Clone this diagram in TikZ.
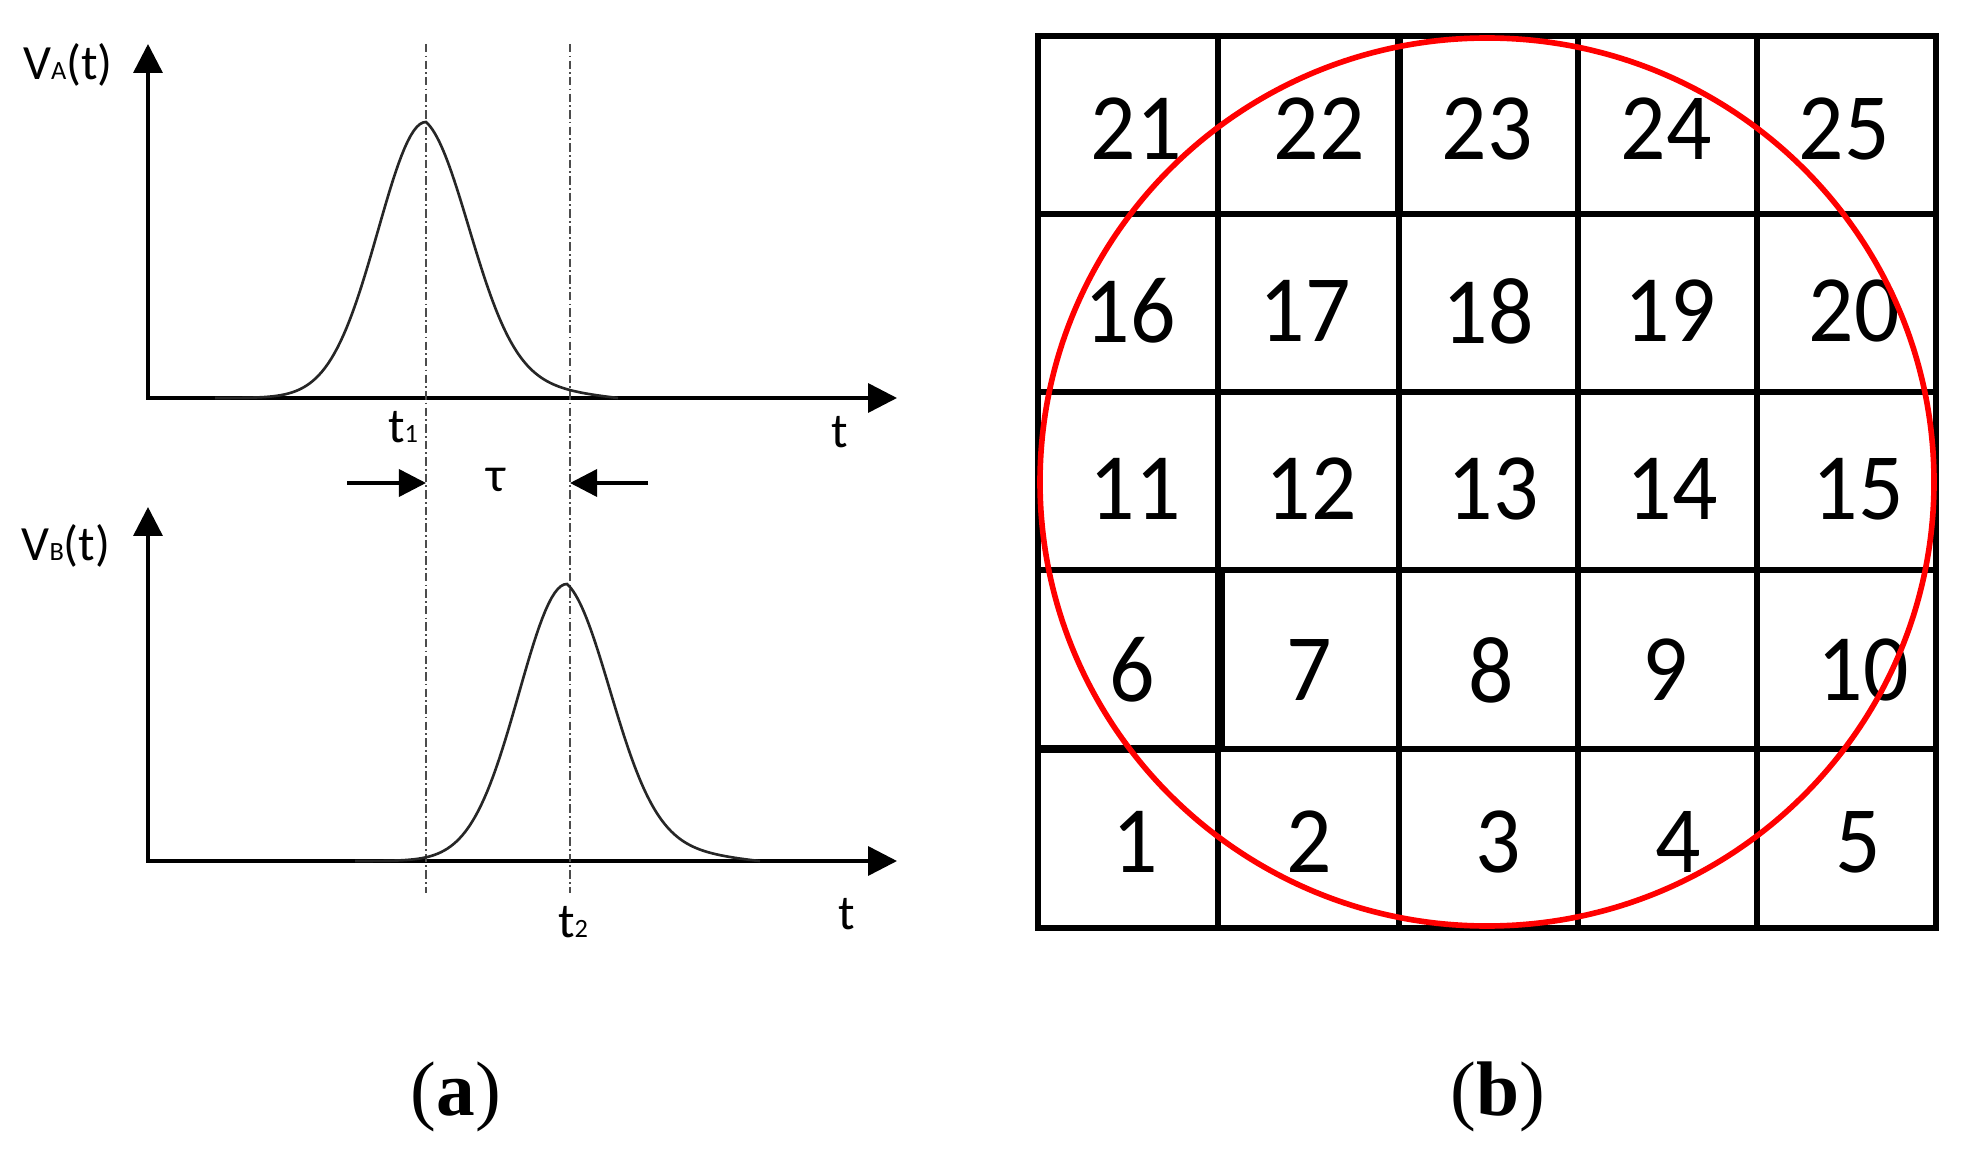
\documentclass[tikz,border=0pt]{standalone}
\usepackage{fontspec}
\setmainfont{Carlito}
\newfontfamily\capserif{Liberation Serif}
\usetikzlibrary{arrows.meta}
\newcommand\tallnum[1]{\scalebox{1}[1.06]{#1}}
\newcommand\smallsub[1]{{\fontsize{7.5}{7.5}\selectfont #1}}
\begin{document}
\begin{tikzpicture}[x=0.01cm,y=-0.01cm,
  axisline/.style={line width=1pt, {Triangle[length=8.2pt,width=8.2pt]}-{Triangle[length=8.2pt,width=8.2pt]}},
  guideline/.style={line width=0.55pt, draw=black!70, dash pattern=on 2.4pt off 0.9pt on 0.5pt off 0.9pt},
  pulseline/.style={line width=0.75pt, draw=black!85},
  tauarrow/.style={line width=1pt, -{Triangle[length=7.7pt,width=7.7pt]}},
  lbl/.style={inner sep=0pt, font=\fontsize{14}{14}\selectfont},
  cellnum/.style={inner sep=0pt, font=\fontsize{25.5}{26}\selectfont},
  captionlbl/.style={inner sep=0pt, font=\capserif\fontsize{22}{22}\selectfont},
  cellline/.style={line width=1.8pt, line cap=rect},
  ringline/.style={line width=1.6pt, draw=red}
]
\useasboundingbox (0,0) rectangle (1964,1149);

% ---------- panel (a) ----------
\coordinate (yA) at (148,44);
\coordinate (oA) at (148,398);
\coordinate (xA) at (897,398);
\coordinate (yB) at (148,507);
\coordinate (oB) at (148,861);
\coordinate (xB) at (897,861);
\draw[axisline] (yA) |- (xA);
\draw[axisline] (yB) |- (xB);

\coordinate (g1top) at (426,44);
\coordinate (g1bot) at (426,893);
\coordinate (g2top) at (570,44);
\coordinate (g2bot) at (570,893);
\draw[guideline] (g1top) -- (g1bot);
\draw[guideline] (g2top) -- (g2bot);

% pulse A
\draw[pulseline] plot[domain=215:426, samples=70] (\x, {398-276*exp(-0.5*((\x-426)/48)^2)})
  -- plot[domain=426:618, samples=90] (\x, {398-276*(0.75*exp(-0.5*((\x-426)/45)^2)+0.25*(exp(-(\x-426)/80)-0.0907*(\x-426)/192))});
% pulse B
\draw[pulseline] plot[domain=355:567, samples=70] (\x, {861-277*exp(-0.5*((\x-567)/48)^2)})
  -- plot[domain=567:760, samples=90] (\x, {861-277*(0.75*exp(-0.5*((\x-567)/45)^2)+0.25*(exp(-(\x-567)/80)-0.0907*(\x-567)/193))});

% tau arrows
\coordinate (tauL) at (347,483);
\coordinate (tau1) at (426,483);
\coordinate (tau2) at (570,483);
\coordinate (tauR) at (648,483);
\draw[tauarrow] (tauL) -- (tau1);
\draw[tauarrow] (tauR) -- (tau2);

\node[lbl] (va) at (68,65) {V\smallsub{A}(t)};
\node[lbl] (vb) at (66,546) {V\smallsub{B}(t)};
\node[lbl] (ta) at (840,432) {t};
\node[lbl] (tb) at (847,914) {t};
\node[lbl] (t1) at (403,427) {t\smallsub{1}};
\node[lbl] (t2) at (573,922) {t\smallsub{2}};
\node[lbl] (tau) at (496,480) {τ};

% ---------- panel (b) ----------
\draw[cellline] (1038,36) rectangle (1936,928);
\foreach \cx in {1218,1399,1578,1757} \draw[cellline] (\cx,36) -- (\cx,928);
\foreach \cy in {214,392,570,749} \draw[cellline] (1038,\cy) -- (1936,\cy);
\draw[line width=2.4pt] (1399,36) -- (1399,214);
\draw[line width=2.4pt] (1221,570) -- (1221,749);
\draw[line width=2.4pt] (1038,749) -- (1221,749);

\node[cellnum] (n21) at (1136,129) {\tallnum{21}};
\node[cellnum] (n22) at (1319,129) {\tallnum{22}};
\node[cellnum] (n23) at (1487,129) {\tallnum{23}};
\node[cellnum] (n24) at (1666,129) {\tallnum{24}};
\node[cellnum] (n25) at (1844,129) {\tallnum{25}};
\node[cellnum] (n16) at (1130,311) {\tallnum{16}};
\node[cellnum] (n17) at (1305,311) {\tallnum{17}};
\node[cellnum] (n18) at (1488,311) {\tallnum{18}};
\node[cellnum] (n19) at (1670,311) {\tallnum{19}};
\node[cellnum] (n20) at (1854,311) {\tallnum{20}};
\node[cellnum] (n11) at (1135,489) {\tallnum{11}};
\node[cellnum] (n12) at (1311,489) {\tallnum{12}};
\node[cellnum] (n13) at (1493,489) {\tallnum{13}};
\node[cellnum] (n14) at (1672,489) {\tallnum{14}};
\node[cellnum] (n15) at (1858,489) {\tallnum{15}};
\node[cellnum] (n6) at (1132,670) {\tallnum{6}};
\node[cellnum] (n7) at (1309,670) {\tallnum{7}};
\node[cellnum] (n8) at (1491,670) {\tallnum{8}};
\node[cellnum] (n9) at (1665,670) {\tallnum{9}};
\node[cellnum] (n10) at (1863,670) {\tallnum{10}};
\node[cellnum] (n1) at (1135,842) {\tallnum{1}};
\node[cellnum] (n2) at (1309,842) {\tallnum{2}};
\node[cellnum] (n3) at (1498,842) {\tallnum{3}};
\node[cellnum] (n4) at (1678,842) {\tallnum{4}};
\node[cellnum] (n5) at (1858,842) {\tallnum{5}};

\draw[ringline] (1487,482) ellipse [x radius=447, y radius=444];

% captions
\node[captionlbl] (capa) at (456,1097) {(\textbf{a})};
\node[captionlbl] (capb) at (1498,1097) {(\textbf{b})};
\end{tikzpicture}
\end{document}
